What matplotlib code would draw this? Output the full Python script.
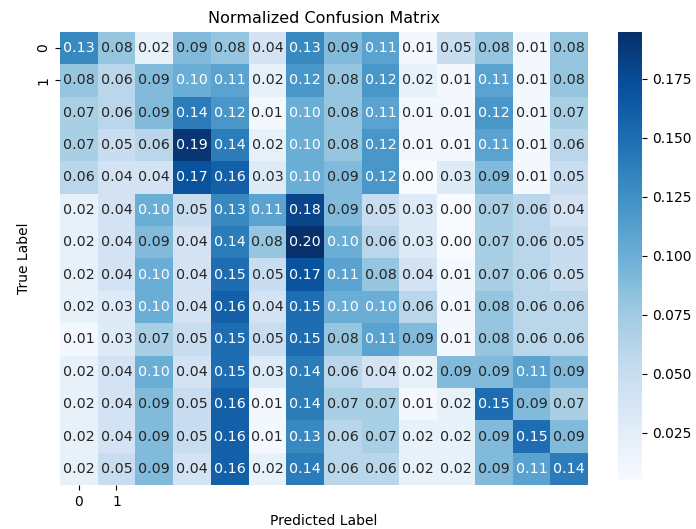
import numpy as np
import matplotlib
matplotlib.use("Agg")
import matplotlib.pyplot as plt
import seaborn as sns

# normalized confusion matrix values (rows = true, cols = predicted)
row0 = [0.13, 0.08, 0.02, 0.09, 0.08, 0.04, 0.13, 0.09, 0.11, 0.01, 0.05, 0.08, 0.01, 0.08]
row1 = [0.08, 0.06, 0.09, 0.10, 0.11, 0.02, 0.12, 0.08, 0.12, 0.02, 0.01, 0.11, 0.01, 0.08]
row2 = [0.07, 0.06, 0.09, 0.14, 0.12, 0.01, 0.10, 0.08, 0.11, 0.01, 0.01, 0.12, 0.01, 0.07]
row3 = [0.07, 0.05, 0.06, 0.19, 0.14, 0.02, 0.10, 0.08, 0.12, 0.01, 0.01, 0.11, 0.01, 0.06]
row4 = [0.06, 0.04, 0.04, 0.17, 0.16, 0.03, 0.10, 0.09, 0.12, 0.00, 0.03, 0.09, 0.01, 0.05]
row5 = [0.02, 0.04, 0.10, 0.05, 0.13, 0.11, 0.18, 0.09, 0.05, 0.03, 0.00, 0.07, 0.06, 0.04]
row6 = [0.02, 0.04, 0.09, 0.04, 0.14, 0.08, 0.20, 0.10, 0.06, 0.03, 0.00, 0.07, 0.06, 0.05]
row7 = [0.02, 0.04, 0.10, 0.04, 0.15, 0.05, 0.17, 0.11, 0.08, 0.04, 0.01, 0.07, 0.06, 0.05]
row8 = [0.02, 0.03, 0.10, 0.04, 0.16, 0.04, 0.15, 0.10, 0.10, 0.06, 0.01, 0.08, 0.06, 0.06]
row9 = [0.01, 0.03, 0.07, 0.05, 0.15, 0.05, 0.15, 0.08, 0.11, 0.09, 0.01, 0.08, 0.06, 0.06]
row10 = [0.02, 0.04, 0.10, 0.04, 0.15, 0.03, 0.14, 0.06, 0.04, 0.02, 0.09, 0.09, 0.11, 0.09]
row11 = [0.02, 0.04, 0.09, 0.05, 0.16, 0.01, 0.14, 0.07, 0.07, 0.01, 0.02, 0.15, 0.09, 0.07]
row12 = [0.02, 0.04, 0.09, 0.05, 0.16, 0.01, 0.13, 0.06, 0.07, 0.02, 0.02, 0.09, 0.15, 0.09]
row13 = [0.02, 0.05, 0.09, 0.04, 0.16, 0.02, 0.14, 0.06, 0.06, 0.02, 0.02, 0.09, 0.11, 0.14]

cm = np.array([row0, row1, row2, row3, row4, row5, row6, row7,
               row8, row9, row10, row11, row12, row13])

tick_labels = ["0", "1"]

fig = plt.figure(figsize=(6.96, 5.29), dpi=100)
ax = fig.add_axes([0.086, 0.083, 0.759, 0.857])
cax = fig.add_axes([0.888, 0.093, 0.035, 0.847])

sns.heatmap(cm, annot=True, fmt=".2f", cmap="Blues", vmin=0.005, vmax=0.195,
            ax=ax, cbar_ax=cax, annot_kws={"size": 10.3})

ax.set_xticks([0.5, 1.5])
ax.set_xticklabels(tick_labels, rotation=0)
ax.set_yticks([0.5, 1.5])
ax.set_yticklabels(tick_labels, rotation=90, va="center")

ax.set_title("Normalized Confusion Matrix", fontsize=11.5)
ax.set_xlabel("Predicted Label", labelpad=4)
ax.set_ylabel("True Label")

fig.savefig("out.png", dpi=100)
